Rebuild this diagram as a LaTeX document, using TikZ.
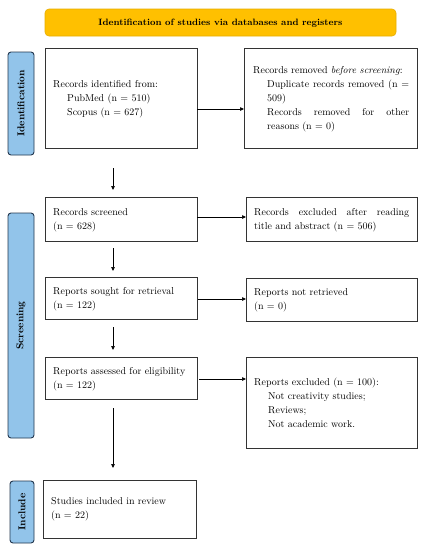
\documentclass[tikz,border=0pt]{standalone}
\usetikzlibrary{arrows.meta}
\definecolor{banner}{HTML}{FFC000}
\definecolor{bannerline}{HTML}{E8AE00}
\definecolor{side}{HTML}{92C4EA}
\definecolor{sideline}{HTML}{22374F}
\newcommand{\jl}[2]{\makebox[#1][s]{#2}}
\begin{document}
\begin{tikzpicture}[x=1pt,y=-1pt,
  box/.style={draw=black!80,line width=0.8pt,fill=white,inner sep=0pt},
  txt/.style={font=\fontsize{10}{14}\selectfont,align=left,anchor=west,inner sep=0pt},
  sidebox/.style={draw=sideline,fill=side,line width=0.9pt,rounded corners=3pt},
  sidetxt/.style={font=\fontsize{10}{12}\selectfont\bfseries,rotate=90},
  arr/.style={-{Triangle[length=4pt,width=3.5pt]},line width=0.7pt,black}]
\useasboundingbox (0,0) rectangle (422,550);
\fill[white] (0,0) rectangle (422,550);
% banner
\draw[fill=banner,draw=bannerline,line width=0.6pt,rounded corners=4pt] (45,9) rectangle (396,36);
\node[font=\fontsize{9.2}{11}\selectfont\bfseries] (bannertxt) at (220.5,23) {Identification of studies via databases and registers};
% side labels
\draw[sidebox] (8,52) rectangle (34,155);
\node[sidetxt] (lid) at (21,103.5) {Identification};
\draw[sidebox] (8,213) rectangle (34,438);
\node[sidetxt] (lsc) at (21,325.5) {Screening};
\draw[sidebox] (10,481) rectangle (34,543);
\node[sidetxt] (lin) at (22,512) {Include};
% boxes (coordinates)
\draw[box] (45,48) rectangle (197,148);
\coordinate (b1) at (45,98);
\node[txt] (t1) at (53,99) {Records identified from:\\\hspace*{14pt}PubMed (n = 510)\\\hspace*{14pt}Scopus (n = 627)};
\draw[box] (244,48) rectangle (417,148);
\node[txt] (t2) at (253,99.5) {Records removed \textit{before screening}:\\
\hspace*{14pt}\jl{142pt}{Duplicate records removed (n =}\\
\hspace*{14pt}509)\\
\hspace*{14pt}\jl{142pt}{Records removed for other}\\
\hspace*{14pt}reasons (n = 0)};
\draw[box] (45,197) rectangle (197,241);
\node[txt] (t3) at (53,220) {Records screened\\(n = 628)};
\draw[box] (246,197) rectangle (417,241);
\node[txt] (t4) at (254,220) {\jl{155pt}{Records excluded after reading}\\title and abstract (n = 506)};
\draw[box] (45,277) rectangle (197,319);
\node[txt] (t5) at (53,299) {Reports sought for retrieval\\(n = 122)};
\draw[box] (246,278) rectangle (417,321);
\node[txt] (t6) at (254,300) {Reports not retrieved\\(n = 0)};
\draw[box] (45,357) rectangle (197,399);
\node[txt] (t7) at (53,379) {Reports assessed for eligibility\\(n = 122)};
\draw[box] (246,357) rectangle (417,448);
\node[txt] (t8) at (254,403) {Reports excluded (n = 100):\\\hspace*{14pt}Not creativity studies;\\\hspace*{14pt}Reviews;\\\hspace*{14pt}Not academic work.};
\draw[box] (43,480) rectangle (196,538);
\node[txt] (t9) at (51,509) {Studies included in review\\(n = 22)};
% arrow anchors
\coordinate (a1s) at (197,109); \coordinate (a1e) at (244,109);
\coordinate (a2s) at (113,168); \coordinate (a2e) at (113,190);
\coordinate (a3s) at (197,217); \coordinate (a3e) at (246,217);
\coordinate (a4s) at (113,248); \coordinate (a4e) at (113,271);
\coordinate (a5s) at (198,299); \coordinate (a5e) at (246,299);
\coordinate (a6s) at (113,327); \coordinate (a6e) at (113,350);
\coordinate (a7s) at (199,379); \coordinate (a7e) at (246,379);
\coordinate (a8s) at (113,408); \coordinate (a8e) at (113,468);
\draw[arr] (a1s) -- (a1e);
\draw[arr] (a2s) -- (a2e);
\draw[arr] (a3s) -- (a3e);
\draw[arr] (a4s) -- (a4e);
\draw[arr] (a5s) -- (a5e);
\draw[arr] (a6s) -- (a6e);
\draw[arr] (a7s) -- (a7e);
\draw[arr] (a8s) -- (a8e);
\end{tikzpicture}
\end{document}
